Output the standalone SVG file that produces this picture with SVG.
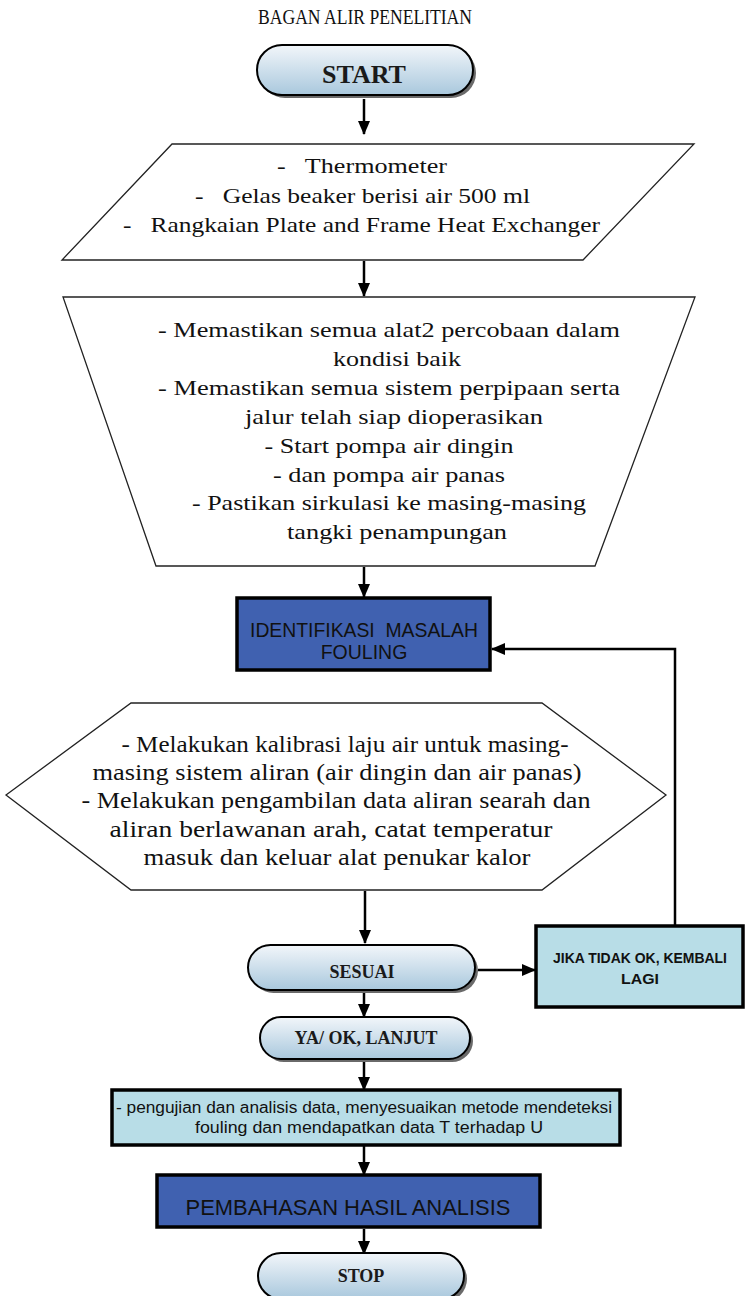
<svg xmlns="http://www.w3.org/2000/svg" width="745" height="1296" viewBox="0 0 745 1296">
<defs>
  <linearGradient id="pillGrad" x1="0" y1="0" x2="0" y2="1">
    <stop offset="0" stop-color="#f2f6fa"/>
    <stop offset="1" stop-color="#a9c8dd"/>
  </linearGradient>
  <marker id="ah" markerUnits="userSpaceOnUse" markerWidth="14" markerHeight="14" viewBox="0 0 14 14" refX="13" refY="7" orient="auto">
    <path d="M0,1 L14,7 L0,13 Z" fill="#000"/>
  </marker>
  <style>
    .serif{font-family:"Liberation Serif","Times New Roman",serif;fill:#111}
    .sans{font-family:"Liberation Sans",Arial,sans-serif;fill:#111}
    .pilltxt{font-family:"Liberation Serif","Times New Roman",serif;font-weight:bold;fill:#1a1a1a;text-anchor:middle}
    .pill{fill:url(#pillGrad);stroke:#000;stroke-width:2}
    .shadow{fill:#6a6a6a}
    .shape{fill:#fff;stroke:#222;stroke-width:1.3}
    .blue{fill:#4061b0;stroke:#000;stroke-width:3.5}
    .lblue{fill:#b8dde7;stroke:#000;stroke-width:3.5}
    .conn{fill:none;stroke:#000;stroke-width:2.5}
    .mid{text-anchor:middle}
  </style>
</defs>
<rect width="745" height="1296" fill="#fff"/>

<text class="serif mid" x="365" y="24" font-size="21" textLength="214" lengthAdjust="spacingAndGlyphs">BAGAN ALIR PENELITIAN</text>

<g id="connectors">
  <line class="conn" x1="364" y1="99" x2="364" y2="134" marker-end="url(#ah)"/>
  <line class="conn" x1="364" y1="261" x2="364" y2="296" marker-end="url(#ah)"/>
  <line class="conn" x1="364" y1="567" x2="364" y2="597" marker-end="url(#ah)"/>
  <line class="conn" x1="365" y1="891" x2="365" y2="943" stroke-width="3" marker-end="url(#ah)"/>
  <line class="conn" x1="478" y1="970" x2="535" y2="970" marker-end="url(#ah)"/>
  <polyline class="conn" points="675,925 675,649 492,649" stroke-width="3" marker-end="url(#ah)"/>
  <line class="conn" x1="364" y1="992" x2="364" y2="1017" marker-end="url(#ah)"/>
  <line class="conn" x1="364" y1="1062" x2="364" y2="1090" marker-end="url(#ah)"/>
  <line class="conn" x1="364" y1="1146" x2="364" y2="1175" marker-end="url(#ah)"/>
  <line class="conn" x1="364" y1="1229" x2="364" y2="1254" marker-end="url(#ah)"/>
</g>

<g id="start">
  <rect class="shadow" x="260" y="48" width="216" height="50" rx="25"/>
  <rect class="pill" x="257" y="45" width="216" height="50" rx="25"/>
  <text class="pilltxt" x="364" y="83" font-size="26">START</text>
</g>

<g id="alat">
  <polygon class="shape" points="172,144 694,144 583,260 62,260"/>
  <text class="serif" x="277" y="173" font-size="22" xml:space="preserve" textLength="170" lengthAdjust="spacingAndGlyphs">-   Thermometer</text>
  <text class="serif" x="195" y="203" font-size="22" xml:space="preserve" textLength="335" lengthAdjust="spacingAndGlyphs">-   Gelas beaker berisi air 500 ml</text>
  <text class="serif" x="123" y="232" font-size="22" xml:space="preserve" textLength="477" lengthAdjust="spacingAndGlyphs">-   Rangkaian Plate and Frame Heat Exchanger</text>
</g>

<g id="persiapan">
  <polygon class="shape" points="63,297 695,297 595,566 156,566"/>
  <text class="serif mid" x="389" y="337" font-size="22" textLength="462" lengthAdjust="spacingAndGlyphs">- Memastikan semua alat2 percobaan dalam</text>
  <text class="serif mid" x="397" y="366" font-size="22" textLength="128" lengthAdjust="spacingAndGlyphs">kondisi baik</text>
  <text class="serif mid" x="389" y="395" font-size="22" textLength="462" lengthAdjust="spacingAndGlyphs">- Memastikan semua sistem perpipaan serta</text>
  <text class="serif mid" x="394" y="424" font-size="22" textLength="298" lengthAdjust="spacingAndGlyphs">jalur telah siap dioperasikan</text>
  <text class="serif mid" x="389" y="453" font-size="22" textLength="249" lengthAdjust="spacingAndGlyphs">- Start pompa air dingin</text>
  <text class="serif mid" x="389" y="482" font-size="22" textLength="232" lengthAdjust="spacingAndGlyphs">- dan pompa air panas</text>
  <text class="serif mid" x="389" y="510" font-size="22" textLength="394" lengthAdjust="spacingAndGlyphs">- Pastikan sirkulasi ke masing-masing</text>
  <text class="serif mid" x="397" y="539" font-size="22" textLength="220" lengthAdjust="spacingAndGlyphs">tangki penampungan</text>
</g>

<g id="identifikasi">
  <rect class="blue" x="237" y="598" width="253" height="72"/>
  <text class="sans mid" x="364" y="637" font-size="19.5" xml:space="preserve" textLength="228" lengthAdjust="spacingAndGlyphs">IDENTIFIKASI  MASALAH</text>
  <text class="sans mid" x="364" y="659" font-size="19.5">FOULING</text>
</g>

<g id="kalibrasi">
  <polygon class="shape" points="6,795 131,703 542,703 666,795 542,890 131,890"/>
  <text class="serif mid" x="345" y="752" font-size="24" textLength="447" lengthAdjust="spacingAndGlyphs">- Melakukan kalibrasi laju air untuk masing-</text>
  <text class="serif mid" x="337" y="780" font-size="24" textLength="489" lengthAdjust="spacingAndGlyphs">masing sistem aliran (air dingin dan air panas)</text>
  <text class="serif mid" x="336" y="808" font-size="24" textLength="509" lengthAdjust="spacingAndGlyphs">- Melakukan pengambilan data aliran searah dan</text>
  <text class="serif mid" x="331" y="837" font-size="24" textLength="443" lengthAdjust="spacingAndGlyphs">aliran berlawanan arah, catat temperatur</text>
  <text class="serif mid" x="337" y="865" font-size="24" textLength="387" lengthAdjust="spacingAndGlyphs">masuk dan keluar alat penukar kalor</text>
</g>

<g id="sesuai">
  <rect class="shadow" x="251" y="948" width="227" height="45" rx="22.5"/>
  <rect class="pill" x="248" y="945" width="227" height="45" rx="22.5"/>
  <text class="pilltxt" x="362" y="978" font-size="18">SESUAI</text>
</g>

<g id="jika">
  <rect class="lblue" x="536" y="926" width="207" height="81"/>
  <text class="sans mid" x="640" y="963" font-size="15.5" font-weight="bold" textLength="174" lengthAdjust="spacingAndGlyphs">JIKA TIDAK OK, KEMBALI</text>
  <text class="sans mid" x="640" y="984" font-size="15.5" font-weight="bold" textLength="38" lengthAdjust="spacingAndGlyphs">LAGI</text>
</g>

<g id="lanjut">
  <rect class="shadow" x="263" y="1020" width="210" height="42" rx="21"/>
  <rect class="pill" x="260" y="1017" width="210" height="42" rx="21"/>
  <text class="pilltxt" x="366" y="1044" font-size="18">YA/ OK, LANJUT</text>
</g>

<g id="pengujian">
  <rect class="lblue" x="112" y="1090" width="508" height="55"/>
  <text class="sans mid" x="364" y="1113" font-size="16" textLength="496" lengthAdjust="spacingAndGlyphs">- pengujian dan analisis data, menyesuaikan metode mendeteksi</text>
  <text class="sans mid" x="369" y="1133" font-size="16" textLength="348" lengthAdjust="spacingAndGlyphs">fouling dan mendapatkan data T terhadap U</text>
</g>

<g id="pembahasan">
  <rect class="blue" x="157" y="1175" width="383" height="52"/>
  <text class="sans mid" x="348" y="1215" font-size="22" textLength="325" lengthAdjust="spacingAndGlyphs">PEMBAHASAN HASIL ANALISIS</text>
</g>

<g id="stop">
  <rect class="shadow" x="261" y="1256" width="206" height="46" rx="23"/>
  <rect class="pill" x="258" y="1253" width="206" height="46" rx="23"/>
  <text class="pilltxt" x="361" y="1282" font-size="18">STOP</text>
</g>
</svg>
